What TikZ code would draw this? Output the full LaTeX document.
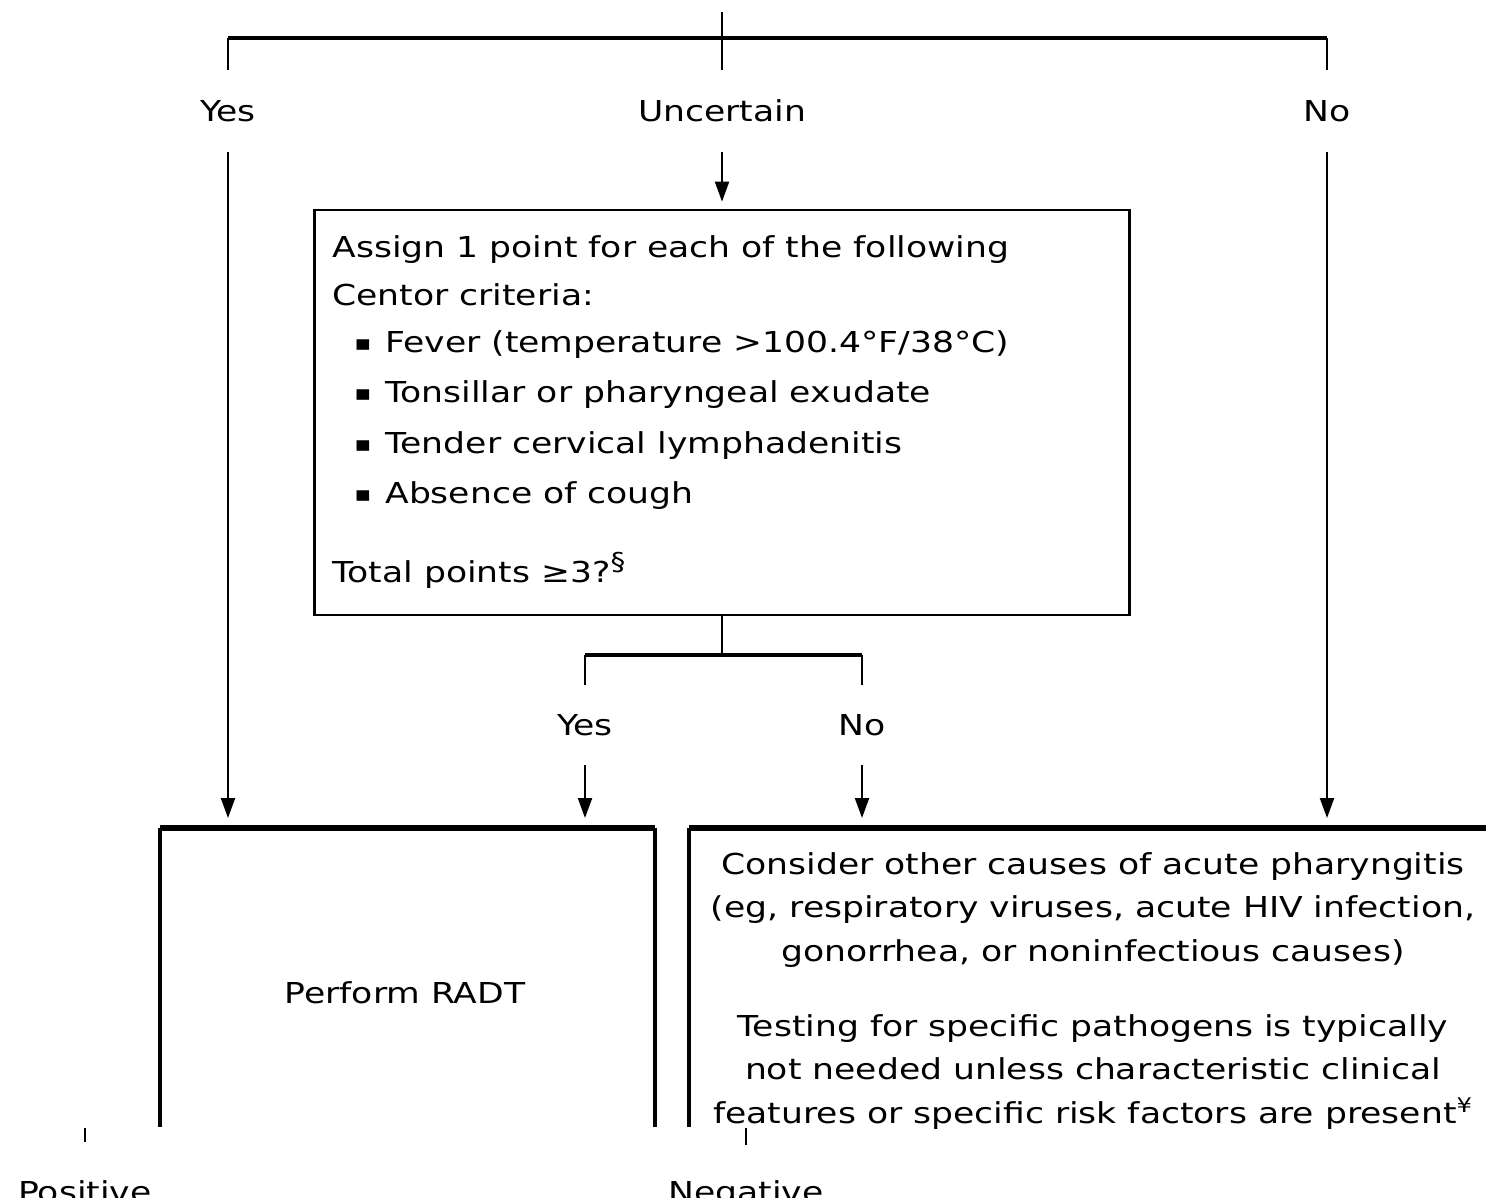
\documentclass[tikz,border=0pt]{standalone}
\usepackage{fontspec}
\setmainfont{DejaVu Sans}[FakeStretch=1.2]
\usetikzlibrary{arrows.meta}
\begin{document}
\begin{tikzpicture}[x=0.02cm,y=-0.02cm,
  fnt/.style={font=\fontsize{16.4}{25}\selectfont},
  lbl/.style={fnt, inner sep=0, minimum height=1.64cm},
  txt/.style={fnt, inner sep=0, anchor=base west},
  bul/.style={font=\fontsize{12}{12}\selectfont, inner sep=0, anchor=base west},
  para/.style={fnt, inner sep=0, align=center},
  conn/.style={line width=1.2pt},
  hconn/.style={line width=1.8pt},
  arr/.style={line width=1.2pt, -{Triangle[length=0.4cm,width=0.28cm]}},
  boxtop/.style={line width=3.6pt},
  boxside/.style={line width=2pt},
]
\useasboundingbox (0,0) rectangle (1486,1197);
\clip (0,0) rectangle (1486,1197);

% top branch
\coordinate (top) at (722,12);
\node[lbl] (yes) at (228,111) {Yes};
\node[lbl] (unc) at (722,111) {Uncertain};
\node[lbl] (no) at (1327,111) {No};
\coordinate (split) at (722,38);
\draw[conn] (top) -- (unc.north);
\draw[hconn] (yes.north |- split) -- (no.north |- split);
\draw[conn] (yes.north |- split) -- (yes.north);
\draw[conn] (no.north |- split) -- (no.north);

% Centor box
\node[draw, line width=1.6pt, minimum width=16.3cm, minimum height=8.1cm, inner sep=0] (centor) at (722,412.5) {};
\draw[arr, shorten >=0.14cm] (unc.south) -- (centor.north);

\node[txt] (l1) at (332,257) {Assign 1 point for each of the following};
\node[txt] (l2) at (332,305) {Centor criteria:};
\node[bul] (b1) at (354,350) {▪};
\node[txt] (t1) at (385,352) {Fever (temperature >100.4°F/38°C)};
\node[bul] (b2) at (354,400) {▪};
\node[txt] (t2) at (385,402) {Tonsillar or pharyngeal exudate};
\node[bul] (b3) at (354,451) {▪};
\node[txt] (t3) at (385,453) {Tender cervical lymphadenitis};
\node[bul] (b4) at (354,501) {▪};
\node[txt] (t4) at (385,503) {Absence of cough};
\node[txt] (tot) at (332,582) {Total points ≥3?\textsuperscript{\fontsize{14}{14}\selectfont §}};

% second branch
\coordinate (split2) at (722,655);
\node[lbl, minimum height=1.6cm] (yes2) at (585,725) {Yes};
\node[lbl, minimum height=1.6cm] (no2) at (862,725) {No};
\draw[conn] (centor.south) -- (split2);
\draw[hconn] (yes2.north |- split2) -- (no2.north |- split2);
\draw[conn] (yes2.north |- split2) -- (yes2.north);
\draw[conn] (no2.north |- split2) -- (no2.north);

% lower boxes
\coordinate (b2tl) at (160,828);
\coordinate (b2tr) at (655,828);
\coordinate (b2bl) at (160,1127);
\coordinate (b2br) at (655,1127);
\draw[boxside] (b2bl) -- (b2tl);
\draw[boxside] (b2br) -- (b2tr);
\draw[boxtop] (b2tl) -- (b2tr);
\node[fnt, inner sep=0] (radt) at (405,993) {Perform RADT};

\coordinate (b3tl) at (689,828);
\coordinate (b3tr) at (1520,828);
\coordinate (b3bl) at (689,1127);
\draw[boxside] (b3bl) -- (b3tl);
\draw[boxtop] (b3tl) -- (b3tr);
\node[para] (p1) at (1093,910) {Consider other causes of acute pharyngitis\\(eg, respiratory viruses, acute HIV infection,\\gonorrhea, or noninfectious causes)};
\node[para] (p2) at (1093,1072) {Testing for specific pathogens is typically\\not needed unless characteristic clinical\\features or specific risk factors are present\textsuperscript{¥}};

% arrows into lower boxes
\draw[arr, shorten >=0.2cm] (yes.south) -- (yes.south |- b2tl);
\draw[arr, shorten >=0.2cm] (yes2.south) -- (yes2.south |- b2tl);
\draw[arr, shorten >=0.2cm] (no2.south) -- (no2.south |- b3tl);
\draw[arr, shorten >=0.2cm] (no.south) -- (no.south |- b3tl);

% bottom cut-off labels
\coordinate (pt) at (85,1128);
\coordinate (pb) at (85,1142);
\coordinate (nt) at (746,1128);
\coordinate (nb) at (746,1145);
\draw[conn] (pt) -- (pb);
\draw[conn] (nt) -- (nb);
\node[fnt, inner sep=0, anchor=base] (pos) at (85,1202) {Positive};
\node[fnt, inner sep=0, anchor=base] (neg) at (746,1202) {Negative};
\end{tikzpicture}
\end{document}
